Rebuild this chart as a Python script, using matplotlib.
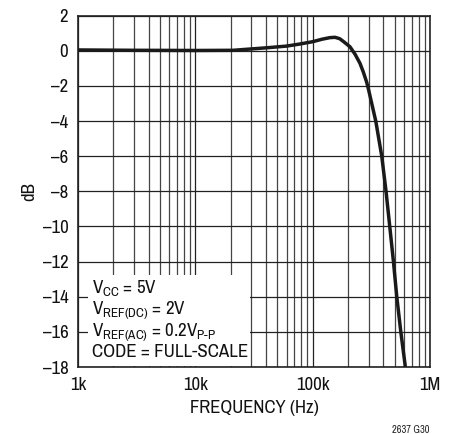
import matplotlib
matplotlib.use("Agg")
import matplotlib.pyplot as plt
from matplotlib.ticker import LogLocator, NullFormatter, FixedLocator
from matplotlib.patches import Rectangle
import numpy as np

plt.rcParams['font.family'] = ['Archivo Narrow', 'Roboto Condensed', 'DejaVu Sans']
plt.rcParams['mathtext.fontset'] = 'custom'
plt.rcParams['mathtext.rm'] = 'Archivo Narrow'
plt.rcParams['mathtext.it'] = 'Archivo Narrow'

# response
freq_hz = [1e3, 3e3, 10e3, 21e3, 40e3, 60e3, 78e3, 100e3, 120e3, 140e3, 155e3, 170e3, 183e3,
           208e3, 230e3, 253e3, 270e3, 289e3, 300e3, 345e3, 388e3, 422e3, 454e3,
           488e3, 521e3, 564e3, 614e3]
gain_db = [0.05, 0.03, 0.02, 0.03, 0.17, 0.27, 0.39, 0.52, 0.66, 0.75, 0.77, 0.69, 0.53,
           0.23, -0.2, -0.71, -1.2, -1.8, -2.23, -4.0, -6.0, -8.0, -10.0,
           -12.0, -14.0, -16.0, -17.9]

xticks = [1e3, 1e4, 1e5, 1e6]
xticklabels = ['1k', '10k', '100k', '1M']
yticks = list(range(-18, 3, 2))
yticklabels = [str(v).replace('-', '\u2013') for v in yticks]

notes = ['V$_{\\mathrm{CC}}$ = 5V',
         'V$_{\\mathrm{REF(DC)}}$ = 2V',
         'V$_{\\mathrm{REF(AC)}}$ = 0.2V$_{\\mathrm{P\u2010P}}$',
         'CODE = FULL-SCALE']

W, H = 459, 434
fig = plt.figure(figsize=(W / 100, H / 100), dpi=100)
x0, x1, y0, y1 = 78, 430, 15.7, 367
ax = fig.add_axes([x0 / W, 1 - y1 / H, (x1 - x0) / W, (y1 - y0) / H])

ax.semilogx(freq_hz, gain_db, color='#1a1a1a', lw=2.5, zorder=5)

ax.set_xlim(1e3, 1e6)
ax.set_ylim(-18, 2)
ax.xaxis.set_major_locator(FixedLocator(xticks))
ax.set_xticklabels(xticklabels)
ax.xaxis.set_minor_locator(LogLocator(base=10, subs=np.arange(2, 10)))
ax.xaxis.set_minor_formatter(NullFormatter())
ax.set_yticks(yticks)
ax.set_yticklabels(yticklabels)

ax.grid(True, which='major', color='#222222', lw=0.9)
ax.grid(True, which='minor', axis='x', color='#444444', lw=0.9)
ax.tick_params(which='both', length=0, labelsize=13.5, colors='#111111')
ax.tick_params(axis='y', pad=7)
ax.tick_params(axis='x', pad=7)
for s in ax.spines.values():
    s.set_color('#222222')
    s.set_linewidth(1.2)

ax.set_xlabel('FREQUENCY (Hz)', fontsize=13.5, labelpad=5, color='#111111')
ax.set_ylabel('dB', fontsize=13.5, labelpad=4, color='#111111')


def to_ax(px, py):
    return (px - x0) / (x1 - x0), (y1 - py) / (y1 - y0)


bx, by = to_ax(88, 366)
bx2, by2 = to_ax(250, 275)
ax.add_patch(Rectangle((bx, by), bx2 - bx, by2 - by, transform=ax.transAxes,
                       facecolor='white', edgecolor='none', zorder=3))
for i, line in enumerate(notes):
    tx, ty = to_ax(92, 293 + 21.3 * i)
    ax.text(tx, ty, line, transform=ax.transAxes, fontsize=13.6, va='baseline',
            ha='left', color='#111111', zorder=6)

fig.text(430 / W, 1 - 433 / H, '2637 G30', fontsize=7.5, ha='right', va='baseline', color='#222222')

fig.savefig('out.png', dpi=100)
